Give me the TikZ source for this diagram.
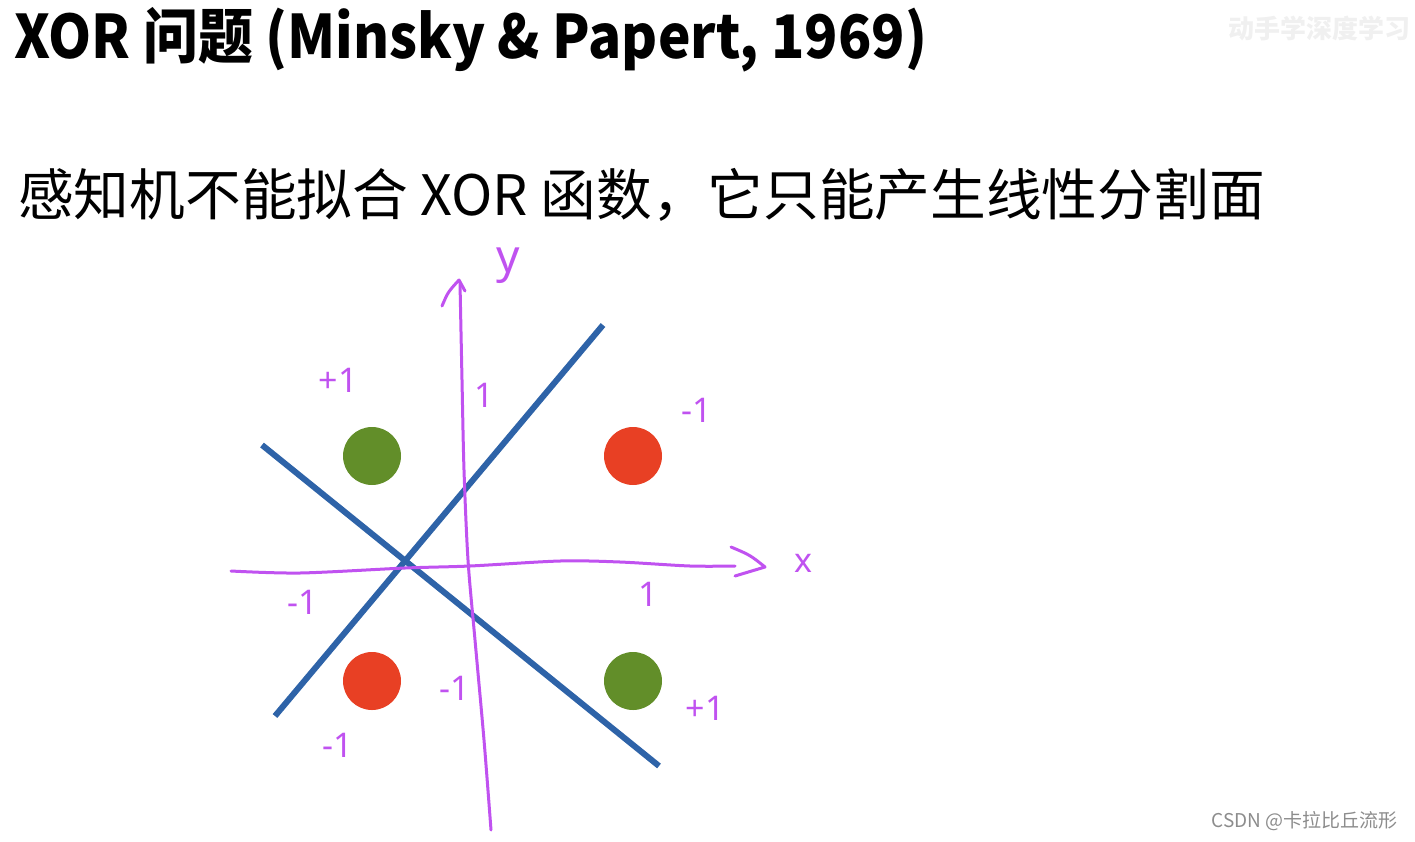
\documentclass[tikz,border=0pt]{standalone}
\usepackage{fontspec}
\setmainfont{Noto Sans CJK SC}
\newfontfamily\handfont{Noto Sans}
\definecolor{axispurple}{RGB}{192,82,240}
\definecolor{lineblue}{RGB}{46,99,168}
\definecolor{dotgreen}{RGB}{98,142,41}
\definecolor{dotred}{RGB}{232,64,36}
\tikzset{
	dot/.style={circle, minimum size=58pt, inner sep=0pt},
	hand/.style={axispurple, line width=3pt, line cap=round, line join=round},
	sepline/.style={lineblue, line width=6pt},
	handlabel/.style={text=axispurple, font=\handfont\fontsize{34}{34}\selectfont, inner sep=0pt},
}
\begin{document}
\begin{tikzpicture}[x=1pt, y=-1pt]
	\useasboundingbox (0,0) rectangle (1415,841);
	
	%Title and subtitle
	\node[anchor=west, inner sep=0pt, font=\bfseries\fontsize{60}{60}\selectfont] (title) at (14,40) {\scalebox{0.915}[1]{XOR 问题 (Minsky \& Papert, 1969)}};
	\node[anchor=west, inner sep=0pt, font=\fontsize{55.7}{56}\selectfont] (sub) at (18,195) {感知机不能拟合 XOR 函数，它只能产生线性分割面};
	
	%Watermarks
	\node[anchor=west, inner sep=0pt, text=black!6, font=\bfseries\fontsize{26}{26}\selectfont] (wmtop) at (1228,28) {动手学深度学习};
	\node[anchor=east, inner sep=0pt, text=black!45, font=\fontsize{19}{19}\selectfont] (wmcsdn) at (1398,821) {CSDN @卡拉比丘流形};
	
	%Separating lines
	\draw[sepline] (275,716) -- (603,325);
	\draw[sepline] (262,445) -- (659,766);
	
	%Points
	\node[dot, fill=dotgreen] (p1) at (372,456) {};
	\node[dot, fill=dotred]   (p2) at (633,456) {};
	\node[dot, fill=dotred]   (p3) at (372,681) {};
	\node[dot, fill=dotgreen] (p4) at (633,681) {};
	
	%Hand drawn axes
	\draw[hand] plot[smooth] coordinates {(491,830) (484,740) (475,640) (468,560) (464,470) (462,380) (460,283)};
	\draw[hand] (442,306) .. controls (448,292) .. (459,280) -- (465,291);
	\draw[hand] plot[smooth] coordinates {(231,571) (300,573) (405,568) (470,566) (560,561) (620,562) (690,566) (735,566)};
	\draw[hand] (731,547) .. controls (750,555) .. (765,567) -- (735,576);
	
	%Labels
	\node[handlabel] (ylab) at (508,266) {\fontsize{46}{46}\selectfont y};
	\node[handlabel] (xlab) at (803,563) {x};
	\node[handlabel] (tl)   at (338,380) {+1};
	\node[handlabel] (ty)   at (484,395) {1};
	\node[handlabel] (tr)   at (697,410) {-1};
	\node[handlabel] (tx)   at (648,594) {1};
	\node[handlabel] (lx)   at (303,602) {-1};
	\node[handlabel] (ly)   at (455,688) {-1};
	\node[handlabel] (bl)   at (338,745) {-1};
	\node[handlabel] (br)   at (705,708) {+1};
\end{tikzpicture}
\end{document}
